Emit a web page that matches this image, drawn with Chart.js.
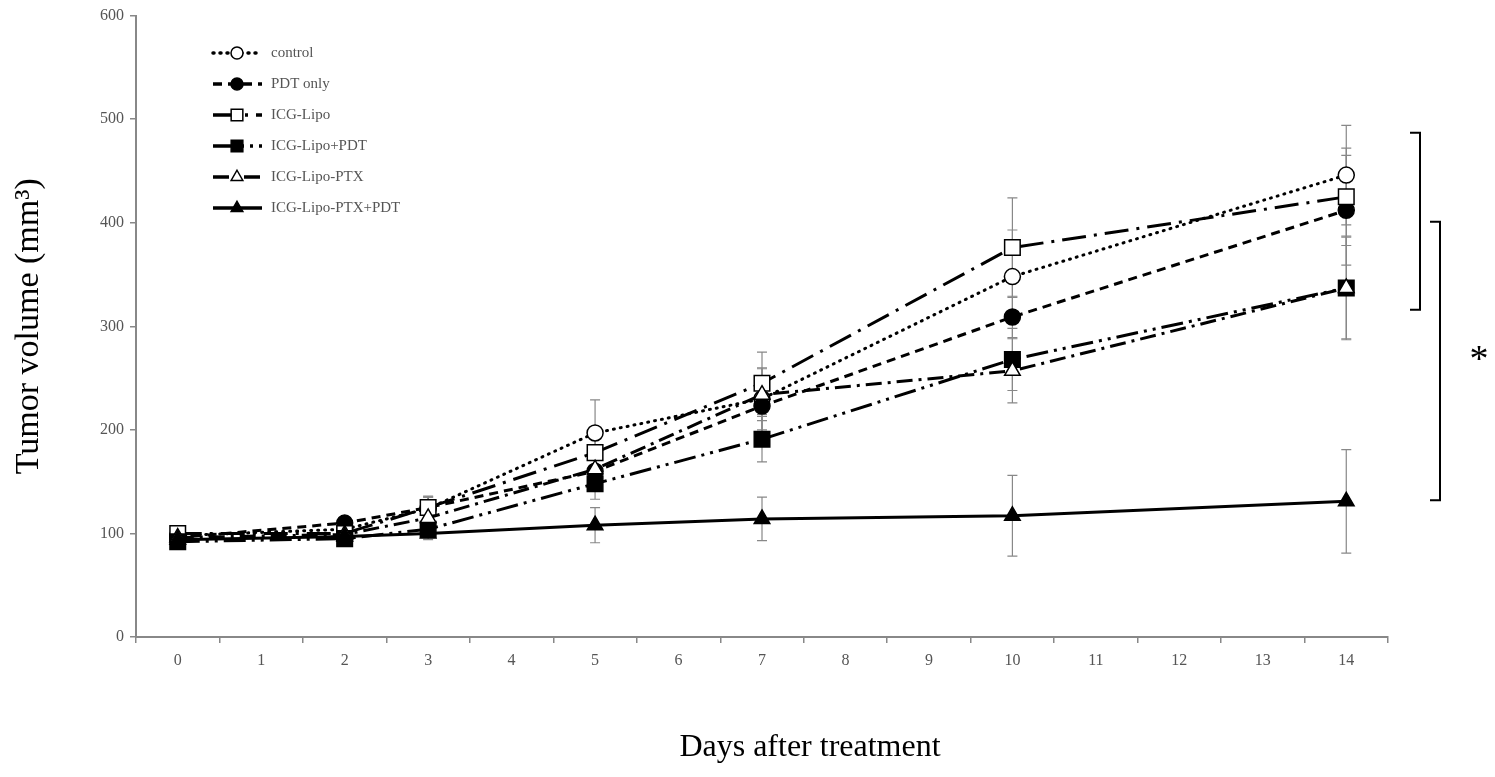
<!DOCTYPE html>
<html>
<head>
<meta charset="utf-8">
<script src="https://cdn.jsdelivr.net/npm/chart.js@4/dist/chart.umd.min.js"></script>
<style>
  html, body { margin: 0; padding: 0; background: #fff; }
  #wrap { width: 1495px; height: 777px; }
</style>
</head>
<body>
<div id="wrap"><canvas id="chart"></canvas></div>
<script>
// tick labels on the x axis (days 0..14) and measured days
var dayLabels = ['0','1','2','3','4','5','6','7','8','9','10','11','12','13','14'];
var days = [0, 2, 3, 5, 7, 10, 14];

// mean tumor volume (mm3) per group
var control      = [98, 104, 124, 197, 230, 348, 446];
var pdtOnly      = [96, 110, 125, 160, 223, 309, 412];
var icgLipo      = [100, 100, 125, 178, 245, 376, 425];
var icgLipoPdt   = [92, 95, 104, 148, 191, 268, 337];
var icgLipoPtx   = [96, 99, 115, 162, 234, 257, 337];
var icgLipoPtxPdt = [94, 97, 100, 108, 114, 117, 131];

// error bars (SD)
var controlErr      = [4, 5, 12, 32, 30, 45, 48];
var pdtOnlyErr      = [4, 6, 10, 18, 25, 20, 53];
var icgLipoErr      = [4, 5, 10, 22, 30, 48, 47];
var icgLipoPdtErr   = [4, 4, 8, 15, 22, 30, 50];
var icgLipoPtxErr   = [4, 4, 8, 15, 25, 31, 49];
var icgLipoPtxPdtErr = [4, 4, 6, 17, 21, 39, 50];

var yTicks = [0, 100, 200, 300, 400, 500, 600];

function pts(vals) {
  return vals.map(function (v, i) { return { x: String(days[i]), y: v }; });
}

function makeSet(label, vals, errs, style, fill, dash, radius) {
  return {
    label: label,
    data: pts(vals),
    errs: errs,
    borderColor: '#000',
    borderWidth: 3,
    borderDash: dash,
    borderCapStyle: dash.length === 2 && dash[0] < 2 ? 'round' : 'butt',
    pointStyle: style,
    pointRadius: radius,
    pointBackgroundColor: fill,
    pointBorderColor: '#000',
    pointBorderWidth: 1.5,
    fill: false,
    tension: 0
  };
}

var datasets = [
  makeSet('control', control, controlErr, 'circle', '#fff', [1, 6], 8),
  makeSet('PDT only', pdtOnly, pdtOnlyErr, 'circle', '#000', [9, 6], 8),
  makeSet('ICG-Lipo', icgLipo, icgLipoErr, 'rect', '#fff', [24, 8, 3, 8], 11),
  makeSet('ICG-Lipo+PDT', icgLipoPdt, icgLipoPdtErr, 'rect', '#000', [22, 6, 3, 6, 3, 6], 11),
  makeSet('ICG-Lipo-PTX', icgLipoPtx, icgLipoPtxErr, 'triangle', '#fff', [16, 6, 3, 6], 9),
  makeSet('ICG-Lipo-PTX+PDT', icgLipoPtxPdt, icgLipoPtxPdtErr, 'triangle', '#000', [], 9)
];
// draw the solid line first so others sit on top
datasets.forEach(function (d, i) { d.order = 6 - i; });

// error bars behind the lines
var errorBars = {
  id: 'errorBars',
  beforeDatasetsDraw: function (chart) {
    var ctx = chart.ctx, xs = chart.scales.x, ys = chart.scales.y;
    ctx.save();
    ctx.strokeStyle = '#888';
    ctx.lineWidth = 1.2;
    chart.data.datasets.forEach(function (ds) {
      ds.data.forEach(function (p, i) {
        var x = xs.getPixelForValue(Number(p.x));
        var y1 = ys.getPixelForValue(p.y + ds.errs[i]);
        var y2 = ys.getPixelForValue(p.y - ds.errs[i]);
        ctx.beginPath();
        ctx.moveTo(x, y1); ctx.lineTo(x, y2);
        ctx.moveTo(x - 5, y1); ctx.lineTo(x + 5, y1);
        ctx.moveTo(x - 5, y2); ctx.lineTo(x + 5, y2);
        ctx.stroke();
      });
    });
    ctx.restore();
  }
};

function marker(ctx, style, x, y, r, fill) {
  ctx.beginPath();
  if (style === 'circle') {
    ctx.arc(x, y, r, 0, Math.PI * 2);
  } else if (style === 'rect') {
    var s = r * Math.SQRT1_2;
    ctx.rect(x - s, y - s, 2 * s, 2 * s);
  } else {
    ctx.moveTo(x, y - r);
    ctx.lineTo(x + r * 0.866, y + r / 2);
    ctx.lineTo(x - r * 0.866, y + r / 2);
    ctx.closePath();
  }
  ctx.fillStyle = fill;
  ctx.fill();
  ctx.lineWidth = 1.5;
  ctx.strokeStyle = '#000';
  ctx.stroke();
}

// legend, brackets, star and x title
var extras = {
  id: 'extras',
  afterDraw: function (chart) {
    var ctx = chart.ctx, ys = chart.scales.y, area = chart.chartArea;
    ctx.save();
    chart.data.datasets.forEach(function (ds, i) {
      var y = 53 + i * 31;
      ctx.setLineDash(ds.borderDash);
      ctx.lineCap = ds.borderCapStyle;
      ctx.lineWidth = 3.5;
      ctx.strokeStyle = '#000';
      ctx.beginPath();
      ctx.moveTo(213, y); ctx.lineTo(262, y);
      ctx.stroke();
      ctx.setLineDash([]);
      ctx.lineCap = 'butt';
      marker(ctx, ds.pointStyle, 237, y, ds.pointRadius * 0.75, ds.pointBackgroundColor);
      ctx.fillStyle = '#555';
      ctx.font = '15px "Liberation Serif"';
      ctx.textBaseline = 'middle';
      ctx.fillText(ds.label, 271, y);
    });

    ctx.strokeStyle = '#000';
    ctx.lineWidth = 2;
    var bx = area.right + 22;
    ctx.beginPath();
    ctx.moveTo(bx, ys.getPixelForValue(487));
    ctx.lineTo(bx + 10, ys.getPixelForValue(487));
    ctx.lineTo(bx + 10, ys.getPixelForValue(316));
    ctx.lineTo(bx, ys.getPixelForValue(316));
    ctx.moveTo(bx + 20, ys.getPixelForValue(401));
    ctx.lineTo(bx + 30, ys.getPixelForValue(401));
    ctx.lineTo(bx + 30, ys.getPixelForValue(132));
    ctx.lineTo(bx + 20, ys.getPixelForValue(132));
    ctx.stroke();

    ctx.fillStyle = '#000';
    ctx.font = '38px "Liberation Serif"';
    ctx.textAlign = 'center';
    ctx.textBaseline = 'middle';
    ctx.fillText('*', area.right + 91, ys.getPixelForValue(266));

    ctx.font = '32px "Liberation Serif"';
    ctx.fillText('Days after treatment', 810, 748);
    ctx.restore();
  }
};

new Chart(document.getElementById('chart'), {
  type: 'line',
  data: { labels: dayLabels, datasets: datasets },
  options: {
    responsive: true,
    maintainAspectRatio: false,
    animation: false,
    layout: { padding: { left: 0, top: 13, right: 107, bottom: 0 } },
    plugins: { legend: { display: false }, tooltip: { enabled: false } },
    scales: {
      x: {
        type: 'category',
        offset: true,
        grid: { offset: true, drawOnChartArea: false, tickLength: 6, color: '#888', lineWidth: 1.5 },
        border: { color: '#888', width: 2 },
        ticks: { color: '#555', font: { family: 'Liberation Serif', size: 16 }, padding: 8, maxRotation: 0, autoSkip: false },
        afterFit: function (s) { s.height = 140; }
      },
      y: {
        min: 0,
        max: 600,
        afterBuildTicks: function (s) { s.ticks = yTicks.map(function (v) { return { value: v }; }); },
        grid: { drawOnChartArea: false, tickLength: 6, color: '#888', lineWidth: 1.5 },
        border: { color: '#888', width: 2 },
        ticks: { color: '#555', font: { family: 'Liberation Serif', size: 16 }, padding: 6 },
        title: {
          display: true,
          text: 'Tumor volume (mm³)',
          color: '#000',
          font: { family: 'Liberation Serif', size: 34 },
          padding: { top: 9, bottom: 0 }
        },
        afterFit: function (s) { s.width = 136; }
      }
    }
  },
  plugins: [errorBars, extras]
});
</script>
</body>
</html>
